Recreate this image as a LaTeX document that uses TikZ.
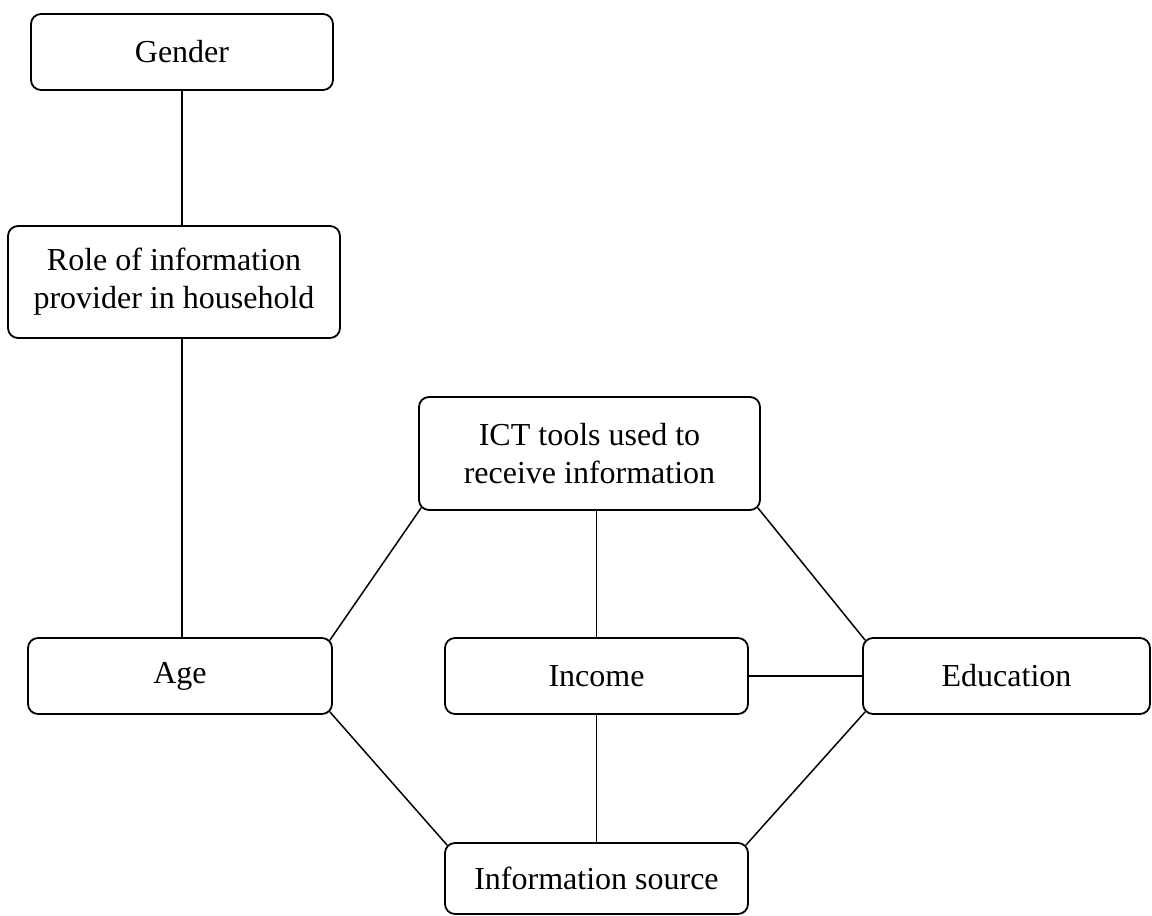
\documentclass[tikz,border=0pt]{standalone}
\usepackage{fontspec}
\setmainfont{Liberation Serif}
\usetikzlibrary{calc}
\begin{document}
\begin{tikzpicture}[x=0.5pt,y=-0.5pt,
  box/.style={draw, line width=0.9pt, rounded corners=5pt, align=center,
    inner sep=0pt, font=\fontsize{16}{19}\selectfont},
  link/.style={line width=0.75pt}]
\useasboundingbox (0,0) rectangle (1152,916);
% variables
\node[box, minimum width=151pt, minimum height=38pt] (gender) at (182,52) {Gender};
\node[box, minimum width=166pt, minimum height=56pt] (role) at (174,282) {Role of information\\provider in household};
\node[box, minimum width=170.5pt, minimum height=56.5pt] (ict) at (589.5,453.5) {ICT tools used to\\receive information};
\node[box, minimum width=152pt, minimum height=38pt] (age) at (180,676) {Age};
\node[box, minimum width=151.5pt, minimum height=38pt] (income) at (596.5,676) {Income};
\node[box, minimum width=143.5pt, minimum height=38pt] (edu) at (1006.5,676) {Education};
\node[box, minimum width=151.5pt, minimum height=35.5pt] (src) at (596.5,878.5) {Information source};
% links
\draw[link] (gender.south) -- (gender.south |- role.north);
\draw[link] (role.south -| gender.south) -- (gender.south |- age.north);
\draw[link] ($(age.north east)+(-3,3)$) -- ($(ict.south west)+(3,-3)$);
\draw[link] ($(age.south east)+(-3,-3)$) -- ($(src.north west)+(3,3)$);
\draw[link] ($(ict.south east)+(-3,-3)$) -- ($(edu.north west)+(3,3)$);
\draw[link] ($(edu.south west)+(3,-3)$) -- ($(src.north east)+(-3,3)$);
\draw[link] (income.north |- ict.south) -- (income.north);
\draw[link] (income.east) -- (edu.west);
\draw[link] (income.south) -- (src.north);
\end{tikzpicture}
\end{document}
